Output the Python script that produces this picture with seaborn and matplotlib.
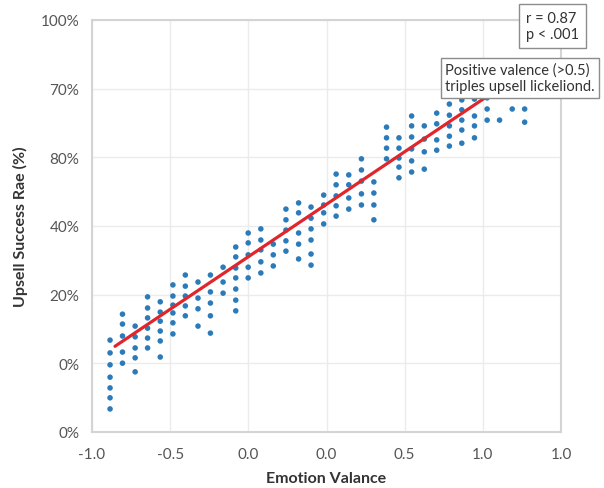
import numpy as np
import pandas as pd
import matplotlib
matplotlib.use('Agg')
import matplotlib.pyplot as plt
import seaborn as sns

# tick labels as printed on the chart
x_tick_labels = ['-1.0', '-0.5', '0.0', '0.0', '0.5', '1.0', '1.0']
y_tick_labels = ['0%', '0%', '20%', '40%', '80%', '70%', '100%']

# emotion valence of each column of dots
col_x = [-0.923, -0.870, -0.816, -0.763, -0.709, -0.655, -0.602, -0.548, -0.495,
         -0.441, -0.387, -0.334, -0.280, -0.227, -0.173, -0.119, -0.066, -0.012,
         0.041, 0.095, 0.149, 0.202, 0.256, 0.309, 0.363, 0.417, 0.470, 0.524,
         0.577, 0.631, 0.685, 0.738, 0.792, 0.845]

# upsell success rate (%) of the dots in each column
col_rates = [
    [22.3, 19.2, 16.3, 13.3, 10.7, 8.3, 5.6],
    [28.6, 26.2, 23.3, 19.4, 16.7],
    [25.7, 23.1, 20.4, 18.0, 14.6],
    [32.8, 30.1, 27.7, 25.2, 22.8, 20.4],
    [31.6, 29.1, 26.9, 24.5, 22.1, 18.2],
    [35.7, 33.0, 30.8, 28.9, 26.5, 23.8],
    [38.1, 35.4, 33.0, 30.6, 28.2],
    [36.4, 32.5, 29.9, 25.7],
    [38.1, 34.0, 31.3, 28.2, 24.0],
    [40.0, 36.4, 33.7],
    [44.9, 42.5, 39.8, 37.4, 34.7, 32.0, 29.4],
    [48.3, 45.9, 43.0, 40.0, 37.4],
    [49.3, 46.6, 44.2, 41.3, 38.6],
    [45.6, 43.0, 40.3],
    [54.1, 51.5, 49.0, 46.4, 43.9],
    [55.6, 53.2, 48.3, 45.6, 42.0],
    [54.6, 51.9, 49.3, 46.6, 43.2, 40.5],
    [57.5, 55.1, 53.2, 50.5],
    [62.6, 60.0, 57.3, 54.9, 52.4],
    [62.4, 60.0, 56.8, 54.1],
    [66.3, 63.6, 60.9, 57.8, 55.1],
    [60.7, 58.0, 55.1, 51.5],
    [74.0, 71.4, 68.9, 66.3],
    [71.4, 68.9, 66.5, 64.3, 61.7],
    [76.7, 74.3, 71.6, 68.7, 65.8, 63.1],
    [74.3, 71.1, 68.0, 63.8],
    [77.4, 74.8, 70.9, 68.4],
    [79.6, 76.9, 74.3, 71.8, 69.4],
    [80.6, 78.2, 75.7, 73.3, 70.1],
    [80.8, 76.7, 74.3, 71.4],
    [81.1, 78.4, 75.7],
    [75.7],
    [78.4],
    [78.4, 75.2],
]

# fitted trend line
trend_x = [-0.902, 0.72]
trend_y = [20.8, 82.8]

rows = [(x, r) for x, rates in zip(col_x, col_rates) for r in rates]
df = pd.DataFrame(rows, columns=['valence', 'rate'])
trend = pd.DataFrame({'valence': trend_x, 'rate': trend_y})

sns.set_style('white')
plt.rcParams['font.family'] = ['Lato', 'DejaVu Sans']

fig = plt.figure(figsize=(6.04, 4.89), dpi=100)
ax = fig.add_axes([92 / 604, 1 - 433 / 489, (561 - 92) / 604, (433 - 21) / 489])

sns.scatterplot(data=df, x='valence', y='rate', ax=ax, s=16, color='#2b7bba',
                edgecolor='none', zorder=3)
sns.lineplot(data=trend, x='valence', y='rate', ax=ax, color='#e0262b', lw=2.3, zorder=4)

ax.set_xlim(-1, 1)
ax.set_ylim(0, 100)
ax.set_xticks(np.linspace(-1, 1, len(x_tick_labels)))
ax.set_xticklabels(x_tick_labels)
ax.set_yticks(np.linspace(0, 100, len(y_tick_labels)))
ax.set_yticklabels(y_tick_labels)
ax.tick_params(length=0, labelsize=11, colors='#555555')
ax.tick_params(axis='x', pad=11)
ax.tick_params(axis='y', pad=9)
ax.grid(True, color='#ebebeb', lw=1)
ax.set_axisbelow(True)
for sp in ax.spines.values():
    sp.set_color('#d4d4d4')
    sp.set_linewidth(1.5)

ax.set_xlabel('Emotion Valance', fontsize=11.5, fontweight='bold', color='#333333', labelpad=7)
ax.set_ylabel('Upsell Success Rae (%)', fontsize=11.5, fontweight='bold', color='#333333', labelpad=9)

fig.text(526 / 604, 1 - 27 / 489, 'r = 0.87\np < .001', fontsize=10.5, color='#333333',
         va='center', ha='left', linespacing=1.25,
         bbox=dict(boxstyle='square,pad=0.45', fc='white', ec='#8c8c8c', lw=1), zorder=10)
fig.text(445 / 604, 1 - 79 / 489, 'Positive valence (>0.5)\ntriples upsell lickeliond.',
         fontsize=10.5, color='#333333', va='center', ha='left', linespacing=1.2,
         bbox=dict(boxstyle='square,pad=0.3', fc='white', ec='#8c8c8c', lw=1), zorder=10)

fig.savefig('out.png', dpi=100)
